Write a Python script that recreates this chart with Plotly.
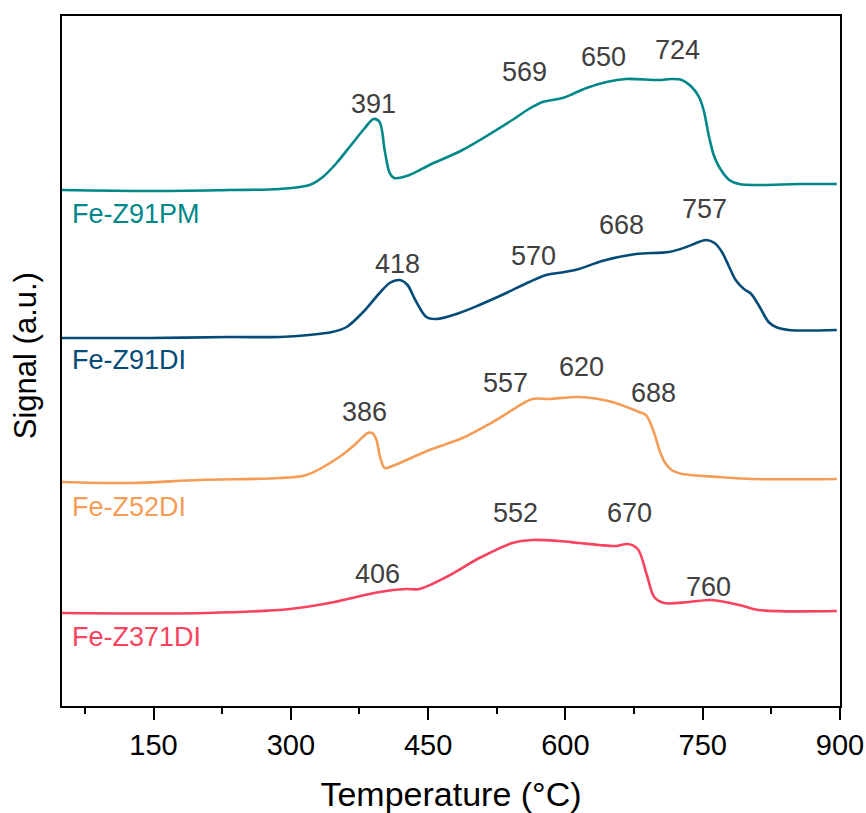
import plotly.graph_objects as go

# ---- data (temperature in °C, signal in a.u.) ----
pm_T = [50, 146, 233, 288, 320.5, 335, 350, 365, 380, 390.4, 397, 402.5, 408, 413, 429.6, 451.5, 487.5,
        542, 560, 575, 597, 608, 623, 645, 666, 702, 716, 727, 738, 746, 751, 757, 762, 768,
        779, 790, 811, 855, 896.5]
pm_S = [516, 515, 516, 517, 521, 529, 543, 560, 577, 587, 584, 556, 533, 528, 531, 541, 556,
        586, 597, 604, 608, 612, 618, 624, 627, 626, 627, 626, 619, 609, 596, 569, 551, 539,
        526, 522, 521, 522, 522]

di91_T = [50, 146, 233, 288, 320, 345, 361, 378, 397, 408, 418.7, 427.5, 436, 448, 459, 484, 506,
          533, 560.5, 579, 599, 615, 640, 677, 713, 732, 743, 754, 763, 771, 779, 786, 795, 803,
          811, 822, 830, 844, 896.5]
di91_S = [368, 368, 369, 369, 371, 374, 379, 393, 413, 423, 426, 421, 406, 389, 387, 393, 401,
          412, 424, 431, 434, 437, 445, 452, 454, 459, 463, 466, 463, 454, 439, 426, 417, 412,
          401, 384, 379, 376, 376]

di52_T = [50, 124, 200.5, 288, 317, 353, 369.6, 384, 389, 393.6, 397, 402.5, 411, 451.5, 487.5,
          524.5, 564, 582, 615, 651, 680.5, 688, 697, 703, 709, 716, 728, 768, 804, 896.5]
di52_S = [224, 223, 226, 228, 231, 249, 261, 273, 273, 266, 251, 238, 240, 256, 268,
          286, 307, 307, 309, 304, 294, 291, 273, 255, 243, 236, 232, 229, 227, 227]

di371_T = [50, 208, 299, 342, 397, 426, 440.5, 470, 506, 542, 564, 593, 615, 637, 655, 668,
           679, 689, 697, 708, 735, 760, 790, 811, 896.5]
di371_S = [93, 93, 97, 103, 114, 117, 117, 129, 148, 163, 166, 165, 163, 161, 160, 162,
           157, 131, 109, 103, 104, 106, 101, 96, 95]

series_names = ["Fe-Z91PM", "Fe-Z91DI", "Fe-Z52DI", "Fe-Z371DI"]
series_colors = ["#00878A", "#054B78", "#F59D57", "#F8435F"]
series_label_y = [492, 346, 199, 69]

peak_text = ["391", "569", "650", "724",
             "418", "570", "668", "757",
             "386", "557", "620", "688",
             "406", "552", "670", "760"]
peak_x = [390.4, 555, 642, 722,
          416.5, 565, 661, 752.5,
          380.5, 535, 618, 696,
          394.7, 546, 669.6, 756]
peak_y = [602, 634, 649, 656,
          442, 450, 481, 497,
          294, 323, 339, 313,
          132, 193, 193, 119]

x_ticks = [150, 300, 450, 600, 750, 900]

FONT = "Arial, Liberation Sans, sans-serif"

fig = go.Figure()
for T, S, name, col in zip([pm_T, di91_T, di52_T, di371_T],
                           [pm_S, di91_S, di52_S, di371_S],
                           series_names, series_colors):
    fig.add_trace(go.Scatter(x=T, y=S, mode="lines", name=name,
                             line=dict(color=col, width=2.6, shape="spline", smoothing=0.9),
                             showlegend=False))

for name, col, ly in zip(series_names, series_colors, series_label_y):
    fig.add_annotation(x=0.0105, xref="paper", y=ly, yref="y", text=name, showarrow=False,
                       xanchor="left", yanchor="middle",
                       font=dict(family=FONT, size=27, color=col))

for t, px, py in zip(peak_text, peak_x, peak_y):
    fig.add_annotation(x=px, y=py, text=t, showarrow=False, xanchor="center", yanchor="middle",
                       font=dict(family=FONT, size=27, color="#404040"))

# y-axis title placed as rotated annotation
fig.add_annotation(x=-0.0475, xref="paper", y=0.507, yref="paper", text="Signal (a.u.)",
                   textangle=-90, showarrow=False, xanchor="center", yanchor="middle",
                   font=dict(family=FONT, size=31, color="black"))

fig.update_layout(
    width=866, height=813,
    margin=dict(l=62, r=26, t=16, b=107),
    paper_bgcolor="white", plot_bgcolor="white",
    font=dict(family=FONT, color="black"),
)
fig.update_xaxes(
    range=[50, 900], tickvals=x_ticks, ticktext=[str(v) for v in x_ticks],
    ticks="outside", ticklen=12, tickwidth=2, tickcolor="black",
    minor=dict(ticks="outside", ticklen=6, tickwidth=2, tickcolor="black", dtick=75, tick0=75),
    showline=True, linecolor="black", linewidth=2, mirror=True,
    showgrid=False, zeroline=False, automargin=False,
    tickfont=dict(family=FONT, size=29, color="black"),
    title=dict(text="Temperature (°C)", font=dict(family=FONT, size=34, color="black"), standoff=22),
)
fig.update_yaxes(
    range=[0, 690], showticklabels=False, ticks="",
    showline=True, linecolor="black", linewidth=2, mirror=True,
    showgrid=False, zeroline=False, automargin=False,
)

fig.write_html("out.html")
